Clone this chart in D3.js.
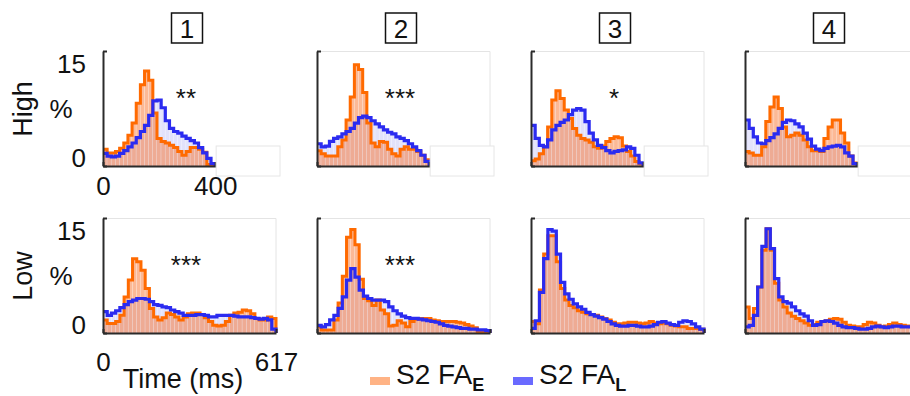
<!DOCTYPE html>
<meta charset="utf-8">
<style>
body { margin: 0; background: #fff; }
svg { font-family: "Liberation Sans", Arial, sans-serif; }
.axis path, .axis line { stroke: #2b2b2b; stroke-width: 2px; }
.axis text { font-size: 26px; fill: #111; font-family: "Liberation Sans", Arial, sans-serif; }
</style>
<body>
<svg width="910" height="396"></svg>
<script src="https://d3js.org/d3.v7.min.js"></script>
<script>
var cols = ["1", "2", "3", "4"];
var rows = ["High", "Low"];
var stars = [["**", "***", "*", ""], ["***", "***", "", ""]];
var xTicks = [[0, 400], [0, 617]];
var yTicks = [0, 15];
var tEnd = [400, 617];   // last bin edge (ms) per row

// % of trials per time bin, S2 FA_E (orange) and S2 FA_L (blue)
var highE = [
  [2.2,1.7,1.7,1.9,2.3,3.0,4.0,5.6,8.2,10.6,12.4,11.2,6.9,3.6,3.2,3.0,2.7,2.4,1.9,1.4,1.9,2.4,2.4,2.2,1.8,0.2,0.1],
  [2.0,1.6,1.3,1.3,1.3,2.5,3.4,6.0,9.0,13.2,12.6,9.6,5.6,3.0,2.5,3.2,3.1,2.2,1.6,1.3,2.2,2.5,2.2,2.2,1.9,1.4,0.8],
  [0.7,0.9,1.6,2.5,5.1,8.6,9.8,8.8,7.3,6.2,4.9,4.0,3.6,3.4,3.1,2.5,2.3,2.6,3.2,3.6,3.8,3.7,2.6,1.9,1.3,0.6,0.3],
  [1.9,1.7,1.4,1.4,2.5,5.8,7.7,9.0,7.5,5.1,3.8,4.0,4.3,4.0,3.4,2.5,2.0,2.0,1.9,3.6,5.1,6.0,6.0,4.3,3.0,1.3,0.4]
];
var highL = [
  [1.65,1.3,1.2,1.3,1.65,2.0,2.5,3.0,3.7,4.5,5.3,6.6,8.5,8.6,7.6,5.9,4.9,4.5,4.3,3.9,3.6,3.3,3.0,2.4,1.7,1.0,0.3],
  [2.9,2.5,2.6,3.2,3.6,3.8,4.2,4.5,4.9,5.6,6.3,6.5,6.3,5.9,5.5,5.1,4.7,4.4,4.2,3.8,3.6,3.3,2.9,2.5,2.0,1.4,0.6],
  [5.3,3.6,2.7,2.5,3.4,4.7,5.3,5.7,6.0,6.7,7.3,7.5,7.3,5.8,4.3,3.4,2.7,2.4,2.0,1.7,1.9,2.0,2.1,2.5,2.3,1.4,0.4],
  [6.0,4.9,3.8,3.0,2.9,3.3,3.7,4.2,4.9,5.7,6.0,5.9,5.5,5.1,4.3,3.5,2.6,2.2,2.0,2.3,2.5,2.6,2.7,2.5,1.7,1.3,0.3]
];
var lowE = [
  [1.7,1.25,1.25,1.5,2.3,4.7,6.9,9.7,9.3,8.2,5.8,3.2,2.1,1.7,2.0,2.6,2.4,2.1,1.7,2.1,2.5,2.6,2.6,2.4,2.0,1.5,1.0,0.9,1.0,1.5,2.3,2.6,2.7,3.0,2.9,2.5,1.9,1.7,1.7,2.1,1.9],
  [0.8,0.4,0.4,0.4,1.7,3.9,7.4,12.5,13.5,11.5,7.0,4.5,4.2,3.6,4.3,3.0,2.5,0.9,1.0,1.6,1.3,0.8,1.5,1.8,1.9,1.9,1.9,1.7,1.6,1.5,1.5,1.5,1.5,1.4,1.3,1.1,0.9,0.7,0.2,0.1,0.2],
  [1.5,1.2,5.6,10.3,12.7,12.7,9.3,5.8,4.3,3.6,3.3,2.9,2.7,2.5,2.4,2.3,2.1,1.9,1.7,1.4,1.2,1.2,1.3,1.4,1.4,1.3,1.2,1.3,1.5,1.3,1.2,1.3,1.2,1.0,0.9,0.8,0.8,0.6,0.6,0.6,0.5],
  [3.4,1.9,3.2,6.0,10.8,13.6,10.8,6.5,4.3,3.4,2.6,2.2,1.9,1.6,1.3,1.0,1.1,1.4,1.5,1.6,1.8,1.9,1.8,1.4,1.0,0.9,0.8,0.8,1.1,1.4,1.3,1.0,0.8,0.9,1.1,1.3,1.1,1.0,0.9,0.8,0.8]
];
var lowL = [
  [2.8,2.3,2.6,2.9,3.3,3.7,4.1,4.3,4.5,4.5,4.4,4.1,3.7,3.6,3.4,3.3,3.0,2.8,2.6,2.3,2.3,2.3,2.4,2.4,2.3,2.1,2.1,2.3,2.3,2.3,2.3,2.2,2.1,2.1,2.1,2.0,1.9,1.8,1.9,1.7,0.5],
  [1.0,0.8,1.1,1.7,2.3,3.2,4.7,6.9,8.4,7.3,5.6,4.8,4.5,4.3,4.3,4.3,4.1,3.4,2.9,2.5,2.2,2.0,1.9,1.9,1.8,1.7,1.6,1.5,1.4,1.2,1.0,0.9,0.8,0.7,0.6,0.6,0.5,0.5,0.4,0.4,0.3],
  [0.6,1.6,5.3,9.7,13.5,13.3,10.3,6.6,5.1,4.4,3.8,3.4,3.1,2.7,2.4,2.2,2.0,1.8,1.5,1.2,1.0,0.9,0.9,1.0,1.0,0.9,0.8,0.8,0.9,1.1,1.4,1.5,1.3,1.1,1.0,1.4,1.6,1.5,1.2,0.8,0.5],
  [0.8,1.0,2.3,6.0,11.3,13.6,11.0,7.1,4.7,4.1,3.9,3.4,2.9,2.5,2.2,1.6,1.0,1.1,1.5,1.6,1.5,1.3,1.0,0.8,0.7,0.7,0.6,0.5,0.5,0.6,0.8,0.9,0.8,0.7,0.8,0.9,0.9,0.8,0.8,0.8,0.7]
];
var data = [[highE, highL], [lowE, lowL]];

var svg = d3.select("svg");
var left = [103, 317, 531, 745], pw = 173;
var rowTop = [51, 218], ph = 115;
var colE = "#ff6a00", colL = "#2b2bf0";
var fillE = "rgba(250,115,45,0.5)", fillL = "rgba(110,110,235,0.2)";

var x = d3.scaleLinear().domain([0, 617]).range([0, pw]);
var y = d3.scaleLinear().domain([0, 15]).range([ph, 0]);

var line = d3.line()
    .x(function(d) { return x(d[0]); })
    .y(function(d) { return y(d[1]); })
    .curve(d3.curveStepAfter);

function stepPoints(vals, bw) {
  var pts = vals.map(function(v, i) { return [i * bw, v]; });
  pts.push([vals.length * bw, 0]);
  return pts;
}

rows.forEach(function(rowName, r) {
  cols.forEach(function(colName, c) {
    var g = svg.append("g")
        .attr("transform", "translate(" + left[c] + "," + rowTop[r] + ")");
    var vE = data[r][0][c], vL = data[r][1][c];
    var bw = tEnd[r] / vE.length;

    // faint box
    if (!(r == 0 && c == 0)) {
      g.append("path")
          .attr("d", "M0,0.5H" + pw + "V" + (r == 0 ? ph - 20 : ph))
          .attr("fill", "none")
          .attr("stroke", "#e4e4e4")
          .attr("stroke-width", 1);
    }

    // bars
    [[vL, fillL], [vE, fillE]].forEach(function(s) {
      g.selectAll(null)
        .data(s[0])
        .enter().append("rect")
          .attr("x", function(d, i) { return x(i * bw); })
          .attr("width", x(bw) - 0.35)
          .attr("y", function(d) { return y(d); })
          .attr("height", function(d) { return ph - y(d); })
          .attr("fill", s[1]);
    });

    g.append("path")
        .attr("d", line(stepPoints(vE, bw)))
        .attr("fill", "none")
        .attr("stroke", colE)
        .attr("stroke-width", 3);

    g.append("path")
        .attr("d", line(stepPoints(vL, bw)))
        .attr("fill", "none")
        .attr("stroke", colL)
        .attr("stroke-width", 3.2);

    var yAxis = d3.axisLeft(y).tickValues(yTicks).tickSize(-4).tickSizeOuter(0).tickPadding(17);
    var xAxis = d3.axisBottom(x).tickValues(xTicks[r]).tickSize(-4).tickSizeOuter(0)
        .tickPadding(r == 0 ? 11 : 20);
    if (c > 0) { yAxis.tickFormat(""); xAxis.tickFormat(""); }

    g.append("g")
        .attr("class", "axis")
        .attr("transform", "translate(0," + ph + ")")
        .call(xAxis);

    g.append("g")
        .attr("class", "axis")
        .call(yAxis)
      .selectAll("text")
        .attr("dy", function(d) { return d == 15 ? "0.82em" : "0em"; });

    // white patch over the unused part of the 0-400 ms axis
    if (r == 0) {
      g.append("rect")
          .attr("x", x(400) + 1)
          .attr("y", ph - 20)
          .attr("width", pw + 3 - x(400))
          .attr("height", 30)
          .attr("fill", "#fff")
          .attr("stroke", "#e6e6e6")
          .attr("stroke-width", 1);
    }

    if (stars[r][c]) {
      g.append("text")
          .attr("x", x(296))
          .attr("y", y(9.7) + 15)
          .attr("text-anchor", "middle")
          .attr("font-size", 26)
          .attr("fill", "#111")
          .text(stars[r][c]);
    }

    if (r == 0) {
      g.append("rect")
          .attr("x", 84 - 15.5)
          .attr("y", 13 - rowTop[0])
          .attr("width", 31)
          .attr("height", 30)
          .attr("fill", "#fff")
          .attr("stroke", "#111")
          .attr("stroke-width", 1.5);
      g.append("text")
          .attr("x", 84)
          .attr("y", 38 - rowTop[0])
          .attr("text-anchor", "middle")
          .attr("font-size", 26)
          .attr("fill", "#111")
          .text(colName);
    }
  });

  svg.append("text")
      .attr("transform", "translate(32," + (rowTop[r] + 58) + ") rotate(-90)")
      .attr("text-anchor", "middle")
      .attr("font-size", 27)
      .attr("fill", "#111")
      .text(rowName);

  svg.append("text")
      .attr("x", 61)
      .attr("y", rowTop[r] + 67)
      .attr("text-anchor", "middle")
      .attr("font-size", 26)
      .attr("fill", "#111")
      .text("%");
});

svg.append("text")
    .attr("x", left[0] + 80)
    .attr("y", 388)
    .attr("text-anchor", "middle")
    .attr("font-size", 27)
    .attr("fill", "#111")
    .text("Time (ms)");

// legend
var legend = [
  {label: "S2 FA", sub: "E", color: "#ffb385", x: 370},
  {label: "S2 FA", sub: "L", color: "#6a6aff", x: 513}
];
legend.forEach(function(d) {
  svg.append("rect")
      .attr("x", d.x).attr("y", 377)
      .attr("width", 20).attr("height", 8)
      .attr("fill", d.color);
  var t = svg.append("text")
      .attr("x", d.x + 26).attr("y", 384)
      .attr("font-size", 28)
      .attr("fill", "#111");
  t.append("tspan").text(d.label);
  t.append("tspan")
      .attr("dy", 7)
      .attr("font-size", 18)
      .attr("font-weight", "bold")
      .text(d.sub);
});
</script>
